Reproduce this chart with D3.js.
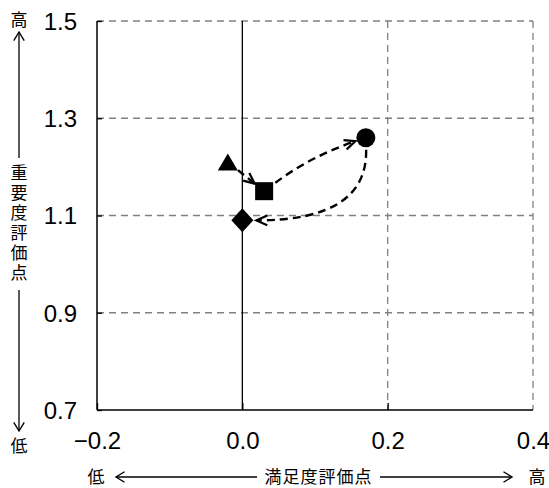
<!DOCTYPE html>
<html>
<head>
<meta charset="utf-8">
<script src="https://cdn.jsdelivr.net/npm/d3@7"></script>
<style>
body { margin: 0; background: #fff; }
</style>
</head>
<body>
<div id="chart"></div>
<script>
// chart data
const xTicks = [-0.2, 0.0, 0.2, 0.4];
const yTicks = [0.7, 0.9, 1.1, 1.3, 1.5];
const markerShapes = ["triangle", "square", "circle", "diamond"];
const satisfaction = [-0.02, 0.03, 0.17, 0.0];
const importance = [1.21, 1.15, 1.26, 1.09];
const arrowFrom = [0, 1, 2];
const arrowTo = [1, 2, 3];
const xTitle = "満足度評価点";
const yTitle = "重要度評価点";

const width = 549, height = 488;
const plotLeft = 97, plotRight = 533, plotTop = 21, plotBottom = 410;

const svg = d3.select("#chart").append("svg")
    .attr("width", width)
    .attr("height", height);

const x = d3.scaleLinear().domain([-0.2, 0.4]).range([plotLeft, plotRight]);
const y = d3.scaleLinear().domain([0.7, 1.5]).range([plotBottom, plotTop]);

// gridlines
svg.selectAll(".hgrid")
    .data(yTicks.filter(d => d > 0.7))
    .enter().append("line")
    .attr("x1", plotLeft).attr("x2", plotRight)
    .attr("y1", d => y(d)).attr("y2", d => y(d))
    .attr("stroke", "#808080").attr("stroke-width", 1.3)
    .attr("stroke-dasharray", "7,5");

svg.selectAll(".vgrid")
    .data(xTicks.filter(d => d > 0))
    .enter().append("line")
    .attr("x1", d => x(d)).attr("x2", d => x(d))
    .attr("y1", plotTop).attr("y2", plotBottom)
    .attr("stroke", "#808080").attr("stroke-width", 1.3)
    .attr("stroke-dasharray", "7,5");

// zero line
svg.append("line")
    .attr("x1", x(0)).attr("x2", x(0))
    .attr("y1", plotTop).attr("y2", plotBottom)
    .attr("stroke", "#000").attr("stroke-width", 1.3);

// axes
const yAxis = d3.axisLeft(y).tickValues(yTicks).tickSize(-5).tickPadding(20)
    .tickFormat(d3.format(".1f"));
const xAxis = d3.axisBottom(x).tickValues(xTicks).tickSize(-7).tickPadding(20)
    .tickFormat(d3.format(".1f"));

const gy = svg.append("g").attr("transform", "translate(" + plotLeft + ",0)").call(yAxis);
const gx = svg.append("g").attr("transform", "translate(0," + plotBottom + ")").call(xAxis);

[gy, gx].forEach(g => {
    g.select(".domain").attr("stroke", "#000").attr("stroke-width", 1.5);
    g.selectAll(".tick line").attr("stroke", "#000").attr("stroke-width", 1.3);
    g.selectAll(".tick text")
        .attr("fill", "#000")
        .style("font-family", "'Liberation Sans Narrow', 'Liberation Sans', Arial, sans-serif")
        .style("font-size", "24px");
});
gx.select(".domain").attr("d", "M" + plotLeft + ",0H" + plotRight);
gy.select(".domain").attr("d", "M0," + plotBottom + "V" + plotTop);
gx.selectAll(".tick").filter(d => d === 0.4).select("line").remove();
gy.selectAll(".tick text").attr("x", -20).attr("dy", "0.35em");
gx.selectAll(".tick text").attr("y", 22).attr("dy", "0.71em");

// markers
function markerPath(shape, cx, cy) {
    const p = d3.path();
    if (shape === "triangle") {
        p.moveTo(cx, cy - 8.5); p.lineTo(cx + 10, cy + 8.5); p.lineTo(cx - 10, cy + 8.5); p.closePath();
    } else if (shape === "square") {
        p.rect(cx - 9, cy - 9, 18, 18);
    } else if (shape === "circle") {
        p.arc(cx, cy, 9.5, 0, 2 * Math.PI);
    } else {
        p.moveTo(cx, cy - 12); p.lineTo(cx + 11, cy); p.lineTo(cx, cy + 12); p.lineTo(cx - 11, cy); p.closePath();
    }
    return p.toString();
}

// arrows between markers
const bend = [[0, 0], [0, 0.08], [-0.2, 0.47]];
const startGap = [13, 14, 12];
const endGap = [12, 11, 14];

arrowFrom.forEach((fi, i) => {
    const ti = arrowTo[i];
    const x0 = x(satisfaction[fi]), y0 = y(importance[fi]);
    const x2 = x(satisfaction[ti]), y2 = y(importance[ti]);
    const vx = x2 - x0, vy = y2 - y0;
    const cx = (x0 + x2) / 2 + bend[i][0] * vx + bend[i][1] * vy;
    const cy = (y0 + y2) / 2 + bend[i][0] * vy - bend[i][1] * vx;
    let dx = cx - x0, dy = cy - y0, l = Math.hypot(dx, dy);
    const sx = x0 + dx / l * startGap[i], sy = y0 + dy / l * startGap[i];
    dx = cx - x2; dy = cy - y2; l = Math.hypot(dx, dy);
    const ux = dx / l, uy = dy / l;
    const ex = x2 + ux * endGap[i], ey = y2 + uy * endGap[i];
    const p = d3.path();
    p.moveTo(sx, sy);
    p.quadraticCurveTo(cx, cy, ex, ey);
    svg.append("path")
        .attr("d", p.toString())
        .attr("fill", "none").attr("stroke", "#000")
        .attr("stroke-width", 2.4).attr("stroke-dasharray", "8,5");
    // open arrow head
    const a = Math.atan2(uy, ux), hl = 12, ha = 0.42;
    const h = d3.path();
    h.moveTo(ex + hl * Math.cos(a + ha), ey + hl * Math.sin(a + ha));
    h.lineTo(ex, ey);
    h.lineTo(ex + hl * Math.cos(a - ha), ey + hl * Math.sin(a - ha));
    svg.append("path")
        .attr("d", h.toString())
        .attr("fill", "none").attr("stroke", "#000").attr("stroke-width", 2.2);
});

svg.selectAll(".marker")
    .data(markerShapes)
    .enter().append("path")
    .attr("d", (s, i) => markerPath(s, x(satisfaction[i]), y(importance[i])))
    .attr("fill", "#000");

// axis titles with arrows
const jp = "'Noto Sans CJK JP', sans-serif";
function arrowLine(x1, y1, x2, y2) {
    svg.append("line")
        .attr("x1", x1).attr("y1", y1).attr("x2", x2).attr("y2", y2)
        .attr("stroke", "#000").attr("stroke-width", 1.3);
    const a = Math.atan2(y1 - y2, x1 - x2);
    const h = d3.path();
    h.moveTo(x2 + 10 * Math.cos(a + 0.55), y2 + 10 * Math.sin(a + 0.55));
    h.lineTo(x2, y2);
    h.lineTo(x2 + 10 * Math.cos(a - 0.55), y2 + 10 * Math.sin(a - 0.55));
    svg.append("path").attr("d", h.toString())
        .attr("fill", "none").attr("stroke", "#000").attr("stroke-width", 1.4);
}

function jpText(tx, ty, str) {
    return svg.append("text").attr("x", tx).attr("y", ty).attr("dy", "0.38em")
        .attr("text-anchor", "middle").attr("fill", "#000")
        .style("font-family", jp).style("font-size", "17px").text(str);
}

// y title (vertical)
jpText(19, 20, "高");
jpText(19, 446, "低");
arrowLine(19, 158, 19, 32);
arrowLine(19, 290, 19, 431);
svg.append("text")
    .attr("x", 19).attr("y", 164)
    .attr("fill", "#000")
    .style("font-family", jp).style("font-size", "17px")
    .style("writing-mode", "vertical-rl")
    .style("letter-spacing", "3px")
    .text(yTitle);

// x title
jpText(96, 477, "低");
jpText(537, 477, "高");
arrowLine(257, 477, 116, 477);
arrowLine(380, 477, 512, 477);
jpText(318.5, 477, xTitle).style("letter-spacing", "1px");
</script>
</body>
</html>
